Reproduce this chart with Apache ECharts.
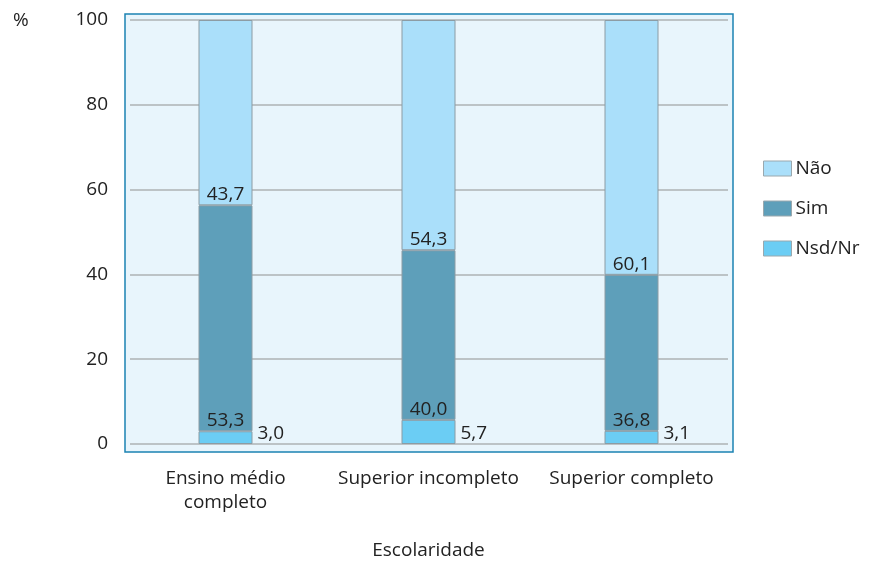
<!DOCTYPE html>
<html>
<head>
<meta charset="utf-8">
<script src="https://cdn.jsdelivr.net/npm/echarts@6/dist/echarts.min.js"></script>
<style>html,body{margin:0;padding:0;background:#fff;}#c{width:874px;height:562px;}</style>
</head>
<body>
<div id="c"></div>
<script>
const categories = ['Ensino médio\ncompleto', 'Superior incompleto', 'Superior completo'];
const nsdNr = [3.0, 5.7, 3.1];
const sim = [53.3, 40.0, 36.8];
const nao = [43.7, 54.3, 60.1];
const yTicks = [0, 20, 40, 60, 80, 100];

const FONT = 'Open Sans';
const FS = 19;
const TXT = '#222';
const fmt = v => v.toFixed(1).replace('.', ',');
const chart = echarts.init(document.getElementById('c'));
const borderC = '#8c9ca4';
chart.setOption({
  animation: false,
  textStyle: { fontFamily: FONT },
  title: { text: '%', left: 8, top: 6, textStyle: { fontFamily: FONT, fontSize: FS, fontWeight: 'normal', color: TXT } },
  legend: {
    orient: 'vertical', left: 758, top: 154, itemWidth: 28, itemHeight: 15, itemGap: 21, icon: 'rect',
    data: ['Não', 'Sim', 'Nsd/Nr'],
    textStyle: { fontFamily: FONT, fontSize: FS, color: TXT, padding: [0, 0, 0, -1] },
    itemStyle: { borderColor: '#9aa8ae', borderWidth: 1 }
  },
  grid: [
    { left: 125, right: 141, top: 14, bottom: 110, show: true, backgroundColor: '#e8f5fc', borderColor: '#1b82b3', borderWidth: 1.5, outerBoundsMode: 'none', containLabel: false },
    { left: 124, right: 141, top: 20, bottom: 118, outerBoundsMode: 'none', containLabel: false },
    { left: 130, right: 146, top: 20, bottom: 118, outerBoundsMode: 'none', containLabel: false }
  ],
  xAxis: [
    { gridIndex: 0, type: 'value', show: false },
    { gridIndex: 1, type: 'category', data: categories,
      axisLine: { show: false }, axisTick: { show: false },
      axisLabel: { fontFamily: FONT, fontSize: FS, color: TXT, margin: 23, lineHeight: 24, interval: 0, hideOverlap: false },
      name: 'Escolaridade', nameLocation: 'middle', nameGap: 97,
      nameTextStyle: { fontFamily: FONT, fontSize: FS, color: TXT } },
    { gridIndex: 2, type: 'value', show: false }
  ],
  yAxis: [
    { gridIndex: 0, type: 'value', show: false },
    { gridIndex: 1, type: 'value', min: 0, max: 100, show: false },
    { gridIndex: 2, type: 'value', min: 0, max: 100, interval: 20,
      axisLine: { show: false }, axisTick: { show: false },
      axisLabel: { fontFamily: FONT, fontSize: FS, color: TXT, margin: 22, formatter: v => yTicks.includes(v) ? String(v) : '' },
      splitLine: { lineStyle: { color: '#aeb2b4', width: 1.5 } } }
  ],
  series: [
    { name: 'Nsd/Nr', type: 'bar', stack: 's', xAxisIndex: 1, yAxisIndex: 1, barWidth: 54, data: nsdNr,
      itemStyle: { color: '#6bcdf4', borderColor: borderC, borderWidth: 1 },
      label: { show: true, position: ['100%', '100%'], align: 'left', verticalAlign: 'bottom', offset: [5, -1], formatter: p => fmt(p.value), fontFamily: FONT, fontSize: FS, color: TXT } },
    { name: 'Sim', type: 'bar', stack: 's', xAxisIndex: 1, yAxisIndex: 1, barWidth: 54, data: sim,
      itemStyle: { color: '#5e9fba', borderColor: borderC, borderWidth: 1 },
      label: { show: true, position: 'insideBottom', distance: 1, formatter: p => fmt(p.value), fontFamily: FONT, fontSize: FS, color: TXT } },
    { name: 'Não', type: 'bar', stack: 's', xAxisIndex: 1, yAxisIndex: 1, barWidth: 54, data: nao,
      itemStyle: { color: '#aadffa', borderColor: borderC, borderWidth: 1 },
      label: { show: true, position: 'insideBottom', distance: 1, formatter: p => fmt(p.value), fontFamily: FONT, fontSize: FS, color: TXT } }
  ]
});
</script>
</body>
</html>
